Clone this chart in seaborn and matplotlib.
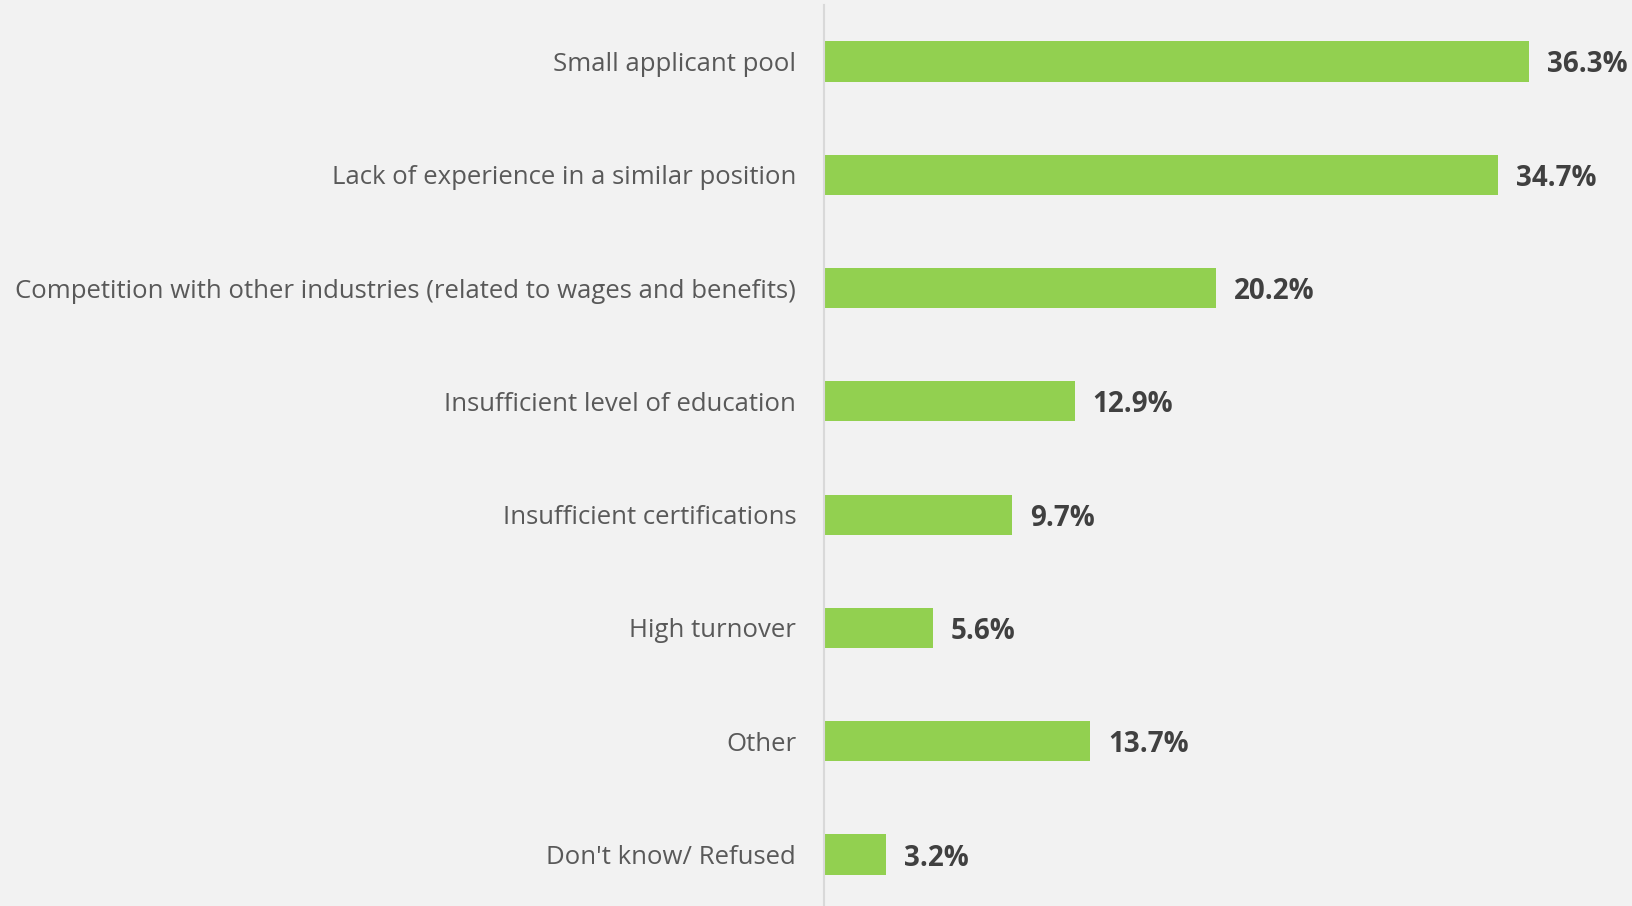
import matplotlib
import numpy as np
import pandas as pd

matplotlib.use("Agg")
import matplotlib.pyplot as plt
import seaborn as sns

categories = [
    "Small applicant pool",
    "Lack of experience in a similar position",
    "Competition with other industries (related to wages and benefits)",
    "Insufficient level of education",
    "Insufficient certifications",
    "High turnover",
    "Other",
    "Don't know/ Refused",
]
values = [36.3, 34.7, 20.2, 12.9, 9.7, 5.6, 13.7, 3.2]

df = pd.DataFrame({"reason": categories, "pct": values})

sns.set_theme(style="white")
plt.rcParams["font.family"] = ["Open Sans", "DejaVu Sans"]

bg = "#F2F2F2"
fig = plt.figure(figsize=(16.32, 9.06), dpi=100, facecolor=bg)
# axes runs a little past the bottom edge so the last row lands where the original has it
ax = fig.add_axes([824 / 1632, -5.2 / 906, 1 - 824 / 1632, 906.4 / 906])
ax.set_facecolor(bg)

sns.barplot(data=df, x="pct", y="reason", color="#92D050", width=0.355,
            saturation=1, linewidth=0, ax=ax)

ax.set_xlim(0, 41.6)
ax.set_ylim(7.5, -0.5)
ax.set_xlabel("")
ax.set_ylabel("")
ax.set_xticks([])
ax.tick_params(axis="y", length=0, pad=20, labelsize=18.5, labelcolor="#595959")

for side in ["top", "right", "bottom"]:
    ax.spines[side].set_visible(False)
ax.spines["left"].set_color("#D9D9D9")
ax.spines["left"].set_linewidth(1.5)

texts = ax.bar_label(ax.containers[0], labels=[f"{v:.1f}%" for v in values],
                     padding=13, fontsize=20, fontweight="bold", color="#404040")
for t in texts:
    t.set_va("center_baseline")

fig.savefig("out.png", dpi=100, facecolor=bg)
